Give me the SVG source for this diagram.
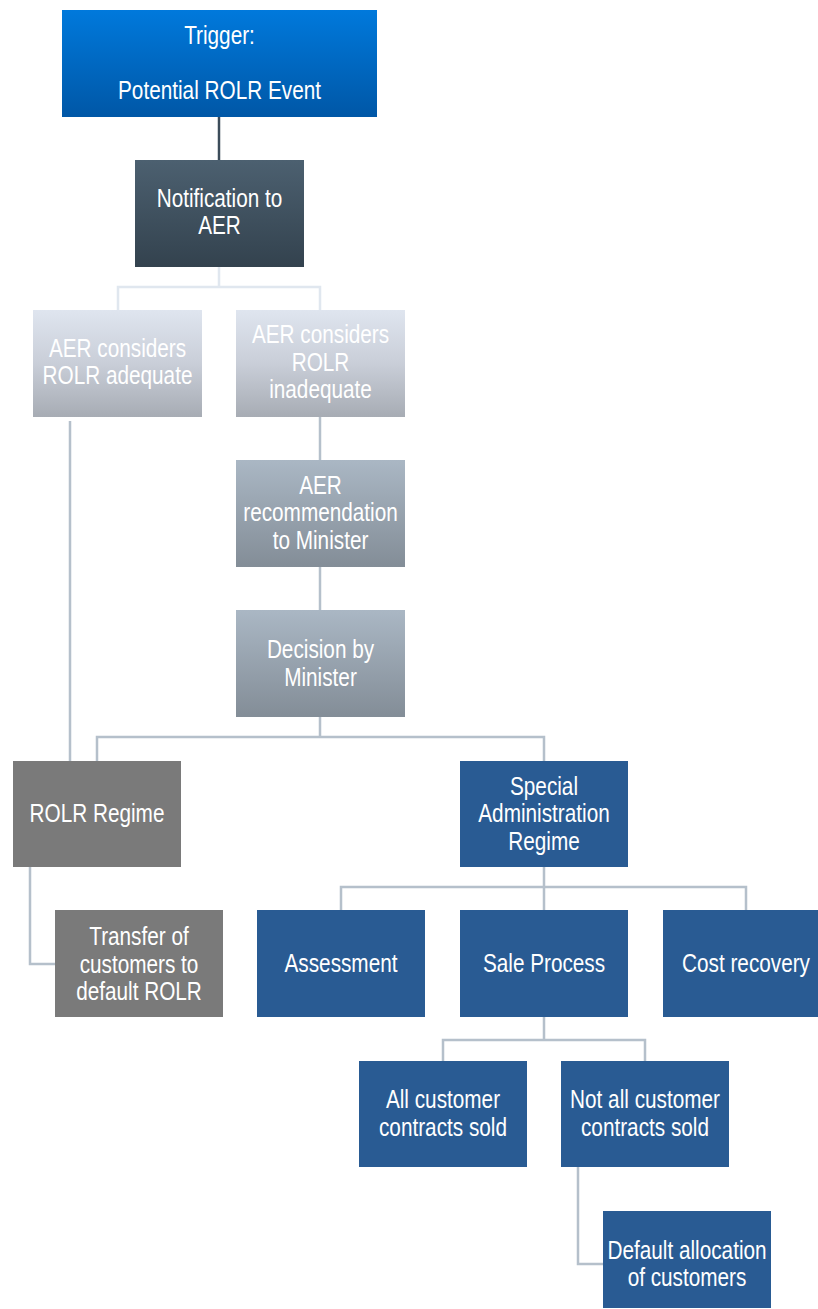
<svg xmlns="http://www.w3.org/2000/svg" width="818" height="1309" viewBox="0 0 818 1309">
<style>
text{font-family:"Liberation Sans",Arial,sans-serif;font-size:25px;fill:#ffffff;text-anchor:middle}
.c{fill:none;stroke:#b5c0cb;stroke-width:2.5}
.cl{fill:none;stroke:#e0e7ef;stroke-width:2.5}
.cd{fill:none;stroke:#3c4c5a;stroke-width:2.5}
.gray{fill:#7a7a7a}
.blue{fill:#295b93}
</style>
<defs>
<linearGradient id="gTrig" x1="0" y1="0" x2="0" y2="1"><stop offset="0" stop-color="#0079dc"/><stop offset="1" stop-color="#0057a6"/></linearGradient>
<linearGradient id="gNot" x1="0" y1="0" x2="0" y2="1"><stop offset="0" stop-color="#4c6070"/><stop offset="1" stop-color="#33424e"/></linearGradient>
<linearGradient id="gLight" x1="0" y1="0" x2="0" y2="1"><stop offset="0" stop-color="#dfe5ef"/><stop offset="0.5" stop-color="#c9ced8"/><stop offset="1" stop-color="#a7acb4"/></linearGradient>
<linearGradient id="gMid" x1="0" y1="0" x2="0" y2="1"><stop offset="0" stop-color="#aab7c4"/><stop offset="1" stop-color="#838d97"/></linearGradient>
</defs>
<g id="connectors">
<path class="cd" d="M219,117 V160"/>
<path class="cl" d="M219,267 V287 M118,310 V287 H320 V310"/>
<path class="c" d="M70,421 V763"/>
<path class="c" d="M320,417 V460"/>
<path class="c" d="M320,567 V610"/>
<path class="c" d="M320,717 V737 M97,761 V737 H544 V761"/>
<path class="c" d="M30,867 V964 H55"/>
<path class="c" d="M544,867 V887 M341,910 V887 H746 V910 M544,887 V910"/>
<path class="c" d="M544,1017 V1040 M443,1061 V1040 H645 V1061"/>
<path class="c" d="M578,1167 V1264 H603"/>
</g>
<g id="trigger"><rect x="62" y="10" width="315" height="107" fill="url(#gTrig)"/>
<g transform="translate(219.5,0) scale(0.83,1)"><text x="0" y="44">Trigger:</text><text x="0" y="99">Potential ROLR Event</text></g></g>
<g id="notification"><rect x="135" y="160" width="169" height="107" fill="url(#gNot)"/>
<g transform="translate(219.5,0) scale(0.83,1)"><text x="0" y="207">Notification to</text><text x="0" y="234">AER</text></g></g>
<g id="adequate"><rect x="33" y="310" width="169" height="107" fill="url(#gLight)"/>
<g transform="translate(117.5,0) scale(0.83,1)"><text x="0" y="357">AER considers</text><text x="0" y="384">ROLR adequate</text></g></g>
<g id="inadequate"><rect x="236" y="310" width="169" height="107" fill="url(#gLight)"/>
<g transform="translate(320.5,0) scale(0.83,1)"><text x="0" y="343">AER considers</text><text x="0" y="371">ROLR</text><text x="0" y="398">inadequate</text></g></g>
<g id="recommendation"><rect x="236" y="460" width="169" height="107" fill="url(#gMid)"/>
<g transform="translate(320.5,0) scale(0.83,1)"><text x="0" y="494">AER</text><text x="0" y="521">recommendation</text><text x="0" y="549">to Minister</text></g></g>
<g id="decision"><rect x="236" y="610" width="169" height="107" fill="url(#gMid)"/>
<g transform="translate(320.5,0) scale(0.83,1)"><text x="0" y="658">Decision by</text><text x="0" y="686">Minister</text></g></g>
<g id="rolr-regime"><rect class="gray" x="13" y="761" width="168" height="106"/>
<g transform="translate(97,0) scale(0.83,1)"><text x="0" y="822">ROLR Regime</text></g></g>
<g id="sar"><rect class="blue" x="460" y="761" width="168" height="106"/>
<g transform="translate(544,0) scale(0.83,1)"><text x="0" y="795">Special</text><text x="0" y="822">Administration</text><text x="0" y="850">Regime</text></g></g>
<g id="transfer"><rect class="gray" x="55" y="910" width="168" height="107"/>
<g transform="translate(139,0) scale(0.83,1)"><text x="0" y="945">Transfer of</text><text x="0" y="973">customers to</text><text x="0" y="1000">default ROLR</text></g></g>
<g id="assessment"><rect class="blue" x="257" y="910" width="168" height="107"/>
<g transform="translate(341,0) scale(0.83,1)"><text x="0" y="972">Assessment</text></g></g>
<g id="sale"><rect class="blue" x="460" y="910" width="168" height="107"/>
<g transform="translate(544,0) scale(0.83,1)"><text x="0" y="972">Sale Process</text></g></g>
<g id="cost"><rect class="blue" x="663" y="910" width="168" height="107"/>
<g transform="translate(746,0) scale(0.83,1)"><text x="0" y="972">Cost recovery</text></g></g>
<g id="all-sold"><rect class="blue" x="359" y="1061" width="168" height="106"/>
<g transform="translate(443,0) scale(0.83,1)"><text x="0" y="1108">All customer</text><text x="0" y="1136">contracts sold</text></g></g>
<g id="not-all-sold"><rect class="blue" x="561" y="1061" width="168" height="106"/>
<g transform="translate(645,0) scale(0.83,1)"><text x="0" y="1108">Not all customer</text><text x="0" y="1136">contracts sold</text></g></g>
<g id="default-allocation"><rect class="blue" x="603" y="1211" width="168" height="97"/>
<g transform="translate(687,0) scale(0.83,1)"><text x="0" y="1259">Default allocation</text><text x="0" y="1286">of customers</text></g></g>
</svg>
